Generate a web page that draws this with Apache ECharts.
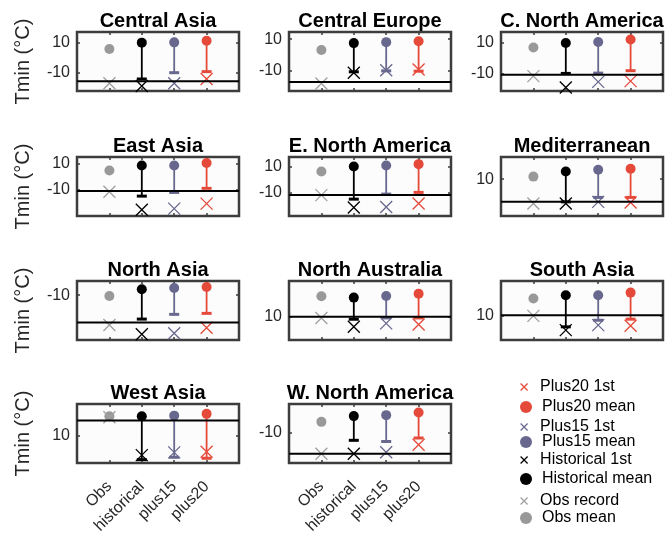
<!DOCTYPE html>
<html>
<head>
<meta charset="utf-8">
<script src="https://cdn.jsdelivr.net/npm/echarts@6/dist/echarts.min.js"></script>
<style>
html, body { margin: 0; padding: 0; background: #ffffff; }
#chart { width: 666px; height: 538px; }
</style>
</head>
<body>
<div id="chart"></div>
<script>
// Regional Tmin extremes: observed vs. historical / +1.5 / +2.0 simulations
const regions = ['Central Asia', 'Central Europe', 'C. North America', 'East Asia', 'E. North America',
  'Mediterranean', 'North Asia', 'North Australia', 'South Asia', 'West Asia', 'W. North America'];
const categories = ['Obs', 'historical', 'plus15', 'plus20'];

const obsMean   = [5.8, 3.2, 7.1, 4.9, 6.1, 11.3, -10.3, 19.4, 17.9, 20.0, -4.4];
const obsRecord = [-17.0, -18.0, -11.8, -11.3, -12.1, -2.0, -22.0, 9.5, 10.0, 19.5, -21.0];
const histMean  = [10.0, 7.5, 10.0, 8.7, 10.0, 13.8, -7.6, 18.8, 19.4, 20.0, -1.4];
const histLow   = [-14.2, -10.6, -10.0, -14.6, -15.2, -1.2, -19.6, 8.9, 5.0, -2.0, -14.0];
const hist1st   = [-18.9, -11.2, -19.3, -24.9, -21.7, -2.0, -25.7, 5.5, 3.5, 0.3, -21.0];
const p15Mean   = [10.2, 8.1, 10.7, 8.7, 10.8, 14.7, -7.1, 19.5, 19.4, 20.3, -0.9];
const p15Low    = [-10.0, -10.0, -9.8, -11.8, -11.3, 1.0, -17.7, 9.5, 8.0, -0.8, -14.6];
const p15First  = [-17.0, -9.6, -15.6, -24.1, -21.2, -1.2, -25.3, 7.0, 5.8, 1.7, -20.2];
const p20Mean   = [11.3, 8.7, 12.4, 10.5, 11.8, 15.2, -6.7, 20.6, 20.6, 21.2, 0.5];
const p20Low    = [-9.3, -10.2, -8.2, -8.7, -10.0, 1.0, -17.3, 9.5, 8.5, -1.3, -12.8];
const p20First  = [-14.2, -9.1, -15.1, -20.3, -18.6, -1.5, -23.1, 6.5, 5.5, 2.0, -16.3];
const threshold = [-15.7, -17.0, -10.9, -10.8, -12.1, -1.2, -21.0, 10.0, 10.3, 17.8, -21.0];

const yMin   = [-22.2, -22.7, -21.6, -29.7, -28.2, -8.2, -28.0, -0.6, -1.0, -3.7, -25.8];
const yMax   = [17.1, 14.5, 17.3, 15.1, 17.3, 21.0, -4.3, 26.4, 25.9, 26.2, 4.9];
const yTicks = [[-10, 10], [-10, 10], [-10, 10], [-10, 10], [-10, 10], [10], [-10], [10], [10], [10], [-10]];

// layout of the small multiples
const colLeft = [77, 289, 501];
const rowTop = [32, 157, 281, 404];
const boxW = 162, boxH = 59;

const FONT = 'Liberation Sans, Arial, Helvetica, sans-serif';
const RED = '#e5493a', PURPLE = '#68688f', BLACK = '#000000', GRAY = '#999999', GRAY_X = '#a0a0a0';
const EDGE = '#3d3d3d';
const X_PATH = 'path://M0,0L10,10M10,0L0,10';

const catPos = categories.map((_, k) => k + 1);

const grids = [], xAxes = [], yAxes = [], series = [], graphics = [];

regions.forEach((name, i) => {
  const col = i % 3, row = Math.floor(i / 3);
  const left = colLeft[col], top = rowTop[row];
  grids.push({ left: left, top: top, width: boxW, height: boxH, show: true,
    borderColor: EDGE, borderWidth: 2.5, backgroundColor: '#fcfcfc' });

  const showX = row === 3;
  const tickStyle = { show: true, inside: true, length: 3, lineStyle: { color: EDGE, width: 1.5 } };
  const noLine = { show: false, onZero: false };

  // bottom axis (category labels) and a mirrored top axis carrying only ticks
  xAxes.push({ type: 'value', gridIndex: i, min: 0, max: 5, position: 'bottom',
    axisLine: noLine, splitLine: { show: false },
    axisTick: Object.assign({ customValues: catPos }, tickStyle),
    axisLabel: { show: showX, customValues: catPos, rotate: 45, margin: 21,
      fontFamily: FONT, fontSize: 16, color: '#262626',
      formatter: v => categories[Math.round(v) - 1] || '' } });
  xAxes.push({ type: 'value', gridIndex: i, min: 0, max: 5, position: 'top',
    axisLine: noLine, splitLine: { show: false },
    axisTick: Object.assign({ customValues: catPos }, tickStyle),
    axisLabel: { show: false } });

  yAxes.push({ type: 'value', gridIndex: i, min: yMin[i], max: yMax[i], position: 'left',
    axisLine: noLine, splitLine: { show: false },
    axisTick: Object.assign({ customValues: yTicks[i] }, tickStyle),
    axisLabel: { customValues: yTicks[i], margin: 7, fontFamily: FONT, fontSize: 16, color: '#262626' },
    name: col === 0 ? 'Tmin (°C)' : '', nameLocation: 'middle', nameGap: 44,
    nameTextStyle: { fontFamily: FONT, fontSize: 20, color: '#262626' } });
  yAxes.push({ type: 'value', gridIndex: i, min: yMin[i], max: yMax[i], position: 'right',
    axisLine: noLine, splitLine: { show: false },
    axisTick: Object.assign({ customValues: yTicks[i] }, tickStyle),
    axisLabel: { show: false } });

  const xi = i * 2, yi = i * 2;

  // stems from the mean down to the lower bound, capped at the bottom
  const stemColors = [BLACK, PURPLE, RED];
  series.push({
    type: 'custom', xAxisIndex: xi, yAxisIndex: yi, z: 2,
    data: [[2, histMean[i], histLow[i], 0], [3, p15Mean[i], p15Low[i], 1], [4, p20Mean[i], p20Low[i], 2]],
    renderItem: (params, api) => {
      const x = api.value(0);
      const pTop = api.coord([x, api.value(1)]);
      const pLow = api.coord([x, api.value(2)]);
      const c = stemColors[api.value(3)];
      return { type: 'group', children: [
        { type: 'line', shape: { x1: pTop[0], y1: pTop[1], x2: pLow[0], y2: pLow[1] },
          style: { stroke: c, lineWidth: 1.8 } },
        { type: 'line', shape: { x1: pLow[0] - 5, y1: pLow[1], x2: pLow[0] + 5, y2: pLow[1] },
          style: { stroke: c, lineWidth: 3 } }
      ] };
    }
  });

  const dot = (nm, x, v, c, size) => ({ name: nm, type: 'scatter', xAxisIndex: xi, yAxisIndex: yi, z: 3,
    symbol: 'circle', symbolSize: size, itemStyle: { color: c, opacity: 1 }, data: [[x, v]] });
  const cross = (nm, x, v, c) => ({ name: nm, type: 'scatter', xAxisIndex: xi, yAxisIndex: yi, z: 3,
    symbol: X_PATH, symbolSize: 12,
    itemStyle: { color: 'rgba(0,0,0,0)', borderColor: c, borderWidth: 1.3, opacity: 1 }, data: [[x, v]] });

  series.push(dot('Obs mean', 1, obsMean[i], GRAY, 10));
  series.push(cross('Obs record', 1, obsRecord[i], GRAY_X));
  series.push(dot('Historical mean', 2, histMean[i], BLACK, 10));
  series.push(cross('Historical 1st', 2, hist1st[i], BLACK));
  series.push(dot('Plus15 mean', 3, p15Mean[i], PURPLE, 10));
  series.push(cross('Plus15 1st', 3, p15First[i], PURPLE));
  series.push(dot('Plus20 mean', 4, p20Mean[i], RED, 10));
  series.push(cross('Plus20 1st', 4, p20First[i], RED));

  // reference level
  series.push({ type: 'line', xAxisIndex: xi, yAxisIndex: yi, z: 4, symbol: 'none', silent: true,
    lineStyle: { color: BLACK, width: 2 }, data: [[0, threshold[i]], [5, threshold[i]]] });

  graphics.push({ type: 'text', x: left + boxW / 2, y: top - 1,
    style: { text: name, font: 'bold 20px ' + FONT, fill: '#000', align: 'center', textAlign: 'center',
      verticalAlign: 'bottom', textVerticalAlign: 'bottom' } });
});

// legend entries, stacked in the empty bottom-right slot
const legendItems = [
  { name: 'Plus20 1st', cy: 387, kind: 'x', color: RED },
  { name: 'Plus20 mean', cy: 407, kind: 'dot', color: RED },
  { name: 'Plus15 1st', cy: 427, kind: 'x', color: PURPLE },
  { name: 'Plus15 mean', cy: 442, kind: 'dot', color: PURPLE },
  { name: 'Historical 1st', cy: 460, kind: 'x', color: BLACK },
  { name: 'Historical mean', cy: 479, kind: 'dot', color: BLACK },
  { name: 'Obs record', cy: 501, kind: 'x', color: GRAY_X },
  { name: 'Obs mean', cy: 518, kind: 'dot', color: GRAY }
];
const legends = legendItems.map(it => {
  const h = it.kind === 'x' ? 7 : 12;
  return {
    left: 520, top: it.cy - 9, orient: 'vertical', padding: 0,
    itemWidth: 22, itemHeight: h, selectedMode: false,
    textStyle: { fontFamily: FONT, fontSize: 16, color: '#000', lineHeight: 18 },
    data: [it.kind === 'x'
      ? { name: it.name, icon: X_PATH, itemStyle: { color: 'rgba(0,0,0,0)', borderColor: it.color, borderWidth: 1.2 } }
      : { name: it.name, icon: 'circle', itemStyle: { color: it.color } }]
  };
});

const chart = echarts.init(document.getElementById('chart'), null, { renderer: 'canvas' });
chart.setOption({
  animation: false,
  backgroundColor: '#ffffff',
  grid: grids,
  xAxis: xAxes,
  yAxis: yAxes,
  legend: legends,
  series: series,
  graphic: graphics
});
</script>
</body>
</html>
